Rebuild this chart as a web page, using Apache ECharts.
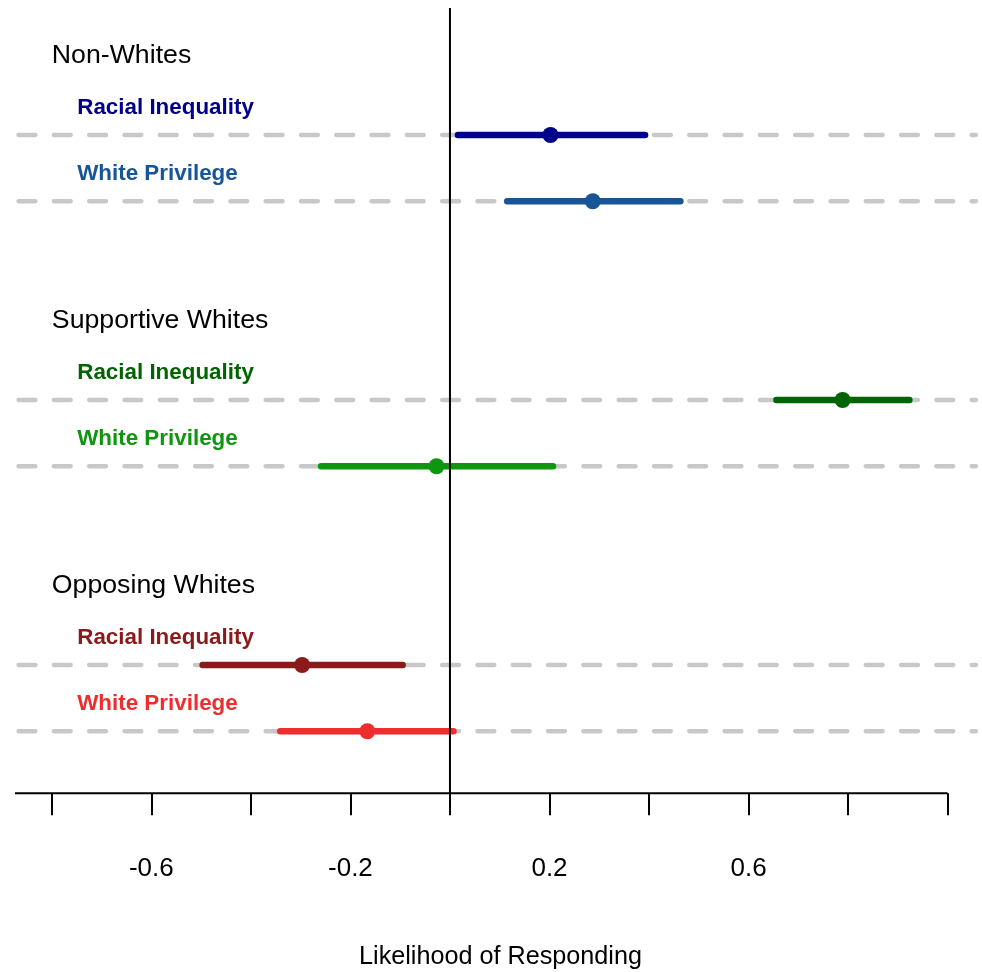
<!DOCTYPE html>
<html>
<head>
<meta charset="utf-8">
<script src="https://cdn.jsdelivr.net/npm/echarts@6/dist/echarts.min.js"></script>
<style>
  html, body { margin: 0; padding: 0; background: #fff; }
  #eChart { width: 982px; height: 972px; }
</style>
</head>
<body>
<div id="eChart"></div>
<script>
// data
const groups = ["Non-Whites", "Supportive Whites", "Opposing Whites"];
const measures = ["Racial Inequality", "White Privilege"];
// order: group x measure
const estimate = [0.202, 0.287, 0.789, -0.027, -0.297, -0.166];
const lower = [0.016, 0.115, 0.656, -0.259, -0.497, -0.341];
const upper = [0.392, 0.463, 0.923, 0.207, -0.095, 0.007];
const tickValues = [-0.8, -0.6, -0.4, -0.2, 0, 0.2, 0.4, 0.6, 0.8, 1.0];
const tickLabels = [-0.6, -0.2, 0.2, 0.6];

const colors = ["#00008B", "#175597", "#006400", "#0f960f", "#8B1A1A", "#EE2E2E"];
const font = "'Liberation Sans', Arial, sans-serif";

const Y_MIN = 0.083;
const Y_MAX = 11.937;
const X_MIN = -0.874;
const X_MAX = 1.057; // plot region runs past the last tick, like the guide lines
const AXIS_END = 1.0;

// row position of each estimate (y axis is inverted)
const rowOf = (g, m) => g * 4 + m + 2;

const series = [];

// dashed guide lines
groups.forEach((g, gi) => {
  measures.forEach((m, mi) => {
    const y = rowOf(gi, mi);
    series.push({
      type: "line",
      data: [[-0.867, y], [X_MAX, y]],
      symbol: "none",
      silent: true,
      lineStyle: { color: "#c8c8c8", width: 4.3, type: [17, 18.3], cap: "round" },
      z: 1,
    });
  });
});

// confidence intervals
groups.forEach((g, gi) => {
  measures.forEach((m, mi) => {
    const i = gi * 2 + mi;
    const y = rowOf(gi, mi);
    series.push({
      type: "line",
      data: [[lower[i], y], [upper[i], y]],
      symbol: "none",
      silent: true,
      lineStyle: { color: colors[i], width: 6.5, cap: "round" },
      z: 2,
    });
  });
});

// zero reference line
series.push({
  type: "line",
  data: [[0, Y_MIN], [0, Y_MAX]],
  symbol: "none",
  silent: true,
  lineStyle: { color: "#000", width: 2 },
  z: 3,
});

// x axis baseline, stops at the last tick
series.push({
  type: "line",
  data: [[X_MIN, Y_MAX], [AXIS_END, Y_MAX]],
  symbol: "none",
  silent: true,
  clip: false,
  lineStyle: { color: "#000", width: 2 },
  z: 3,
});

// point estimates
series.push({
  type: "scatter",
  symbolSize: 16,
  silent: true,
  z: 4,
  itemStyle: { opacity: 1 },
  data: estimate.map((v, i) => ({
    value: [v, rowOf(Math.floor(i / 2), i % 2)],
    itemStyle: { color: colors[i], opacity: 1 },
  })),
});

// group titles
series.push({
  type: "scatter",
  symbolSize: 0,
  silent: true,
  itemStyle: { color: "rgba(0,0,0,0)", opacity: 1 },
  label: {
    show: true,
    position: "right",
    distance: 0,
    formatter: (p) => p.name,
    color: "#000",
    fontSize: 26.7,
    fontFamily: font,
  },
  data: groups.map((g, gi) => ({ name: g, value: [-0.8, rowOf(gi, 0) - 1.2] })),
});

// measure labels
const measureLabels = [];
groups.forEach((g, gi) => {
  measures.forEach((m, mi) => {
    const i = gi * 2 + mi;
    measureLabels.push({
      name: m,
      value: [-0.749, rowOf(gi, mi) - 0.41],
      label: { color: colors[i] },
    });
  });
});
series.push({
  type: "scatter",
  symbolSize: 0,
  silent: true,
  itemStyle: { color: "rgba(0,0,0,0)", opacity: 1 },
  label: {
    show: true,
    position: "right",
    distance: 0,
    formatter: (p) => p.name,
    fontSize: 22.4,
    fontWeight: "bold",
    fontFamily: font,
  },
  data: measureLabels,
});

const myChart = echarts.init(document.getElementById("eChart"), null, { renderer: "canvas" });
myChart.setOption({
  animation: false,
  grid: { left: 15, right: 6, top: 8, bottom: 178.7, containLabel: false, outerBoundsMode: "none" },
  xAxis: {
    type: "value",
    min: X_MIN,
    max: X_MAX,
    splitLine: { show: false },
    axisLine: { show: false, onZero: false },
    axisTick: {
      show: true,
      customValues: tickValues,
      length: 22,
      lineStyle: { color: "#000", width: 2 },
    },
    axisLabel: {
      customValues: tickLabels,
      margin: 63,
      fontSize: 26,
      color: "#000",
      fontFamily: font,
    },
    name: "Likelihood of Responding",
    nameLocation: "middle",
    nameGap: 151,
    nameTextStyle: { fontSize: 25.2, color: "#000", fontFamily: font, padding: [0, 0, 0, 10] },
  },
  yAxis: {
    type: "value",
    inverse: true,
    min: Y_MIN,
    max: Y_MAX,
    show: false,
  },
  series: series,
});
</script>
</body>
</html>
